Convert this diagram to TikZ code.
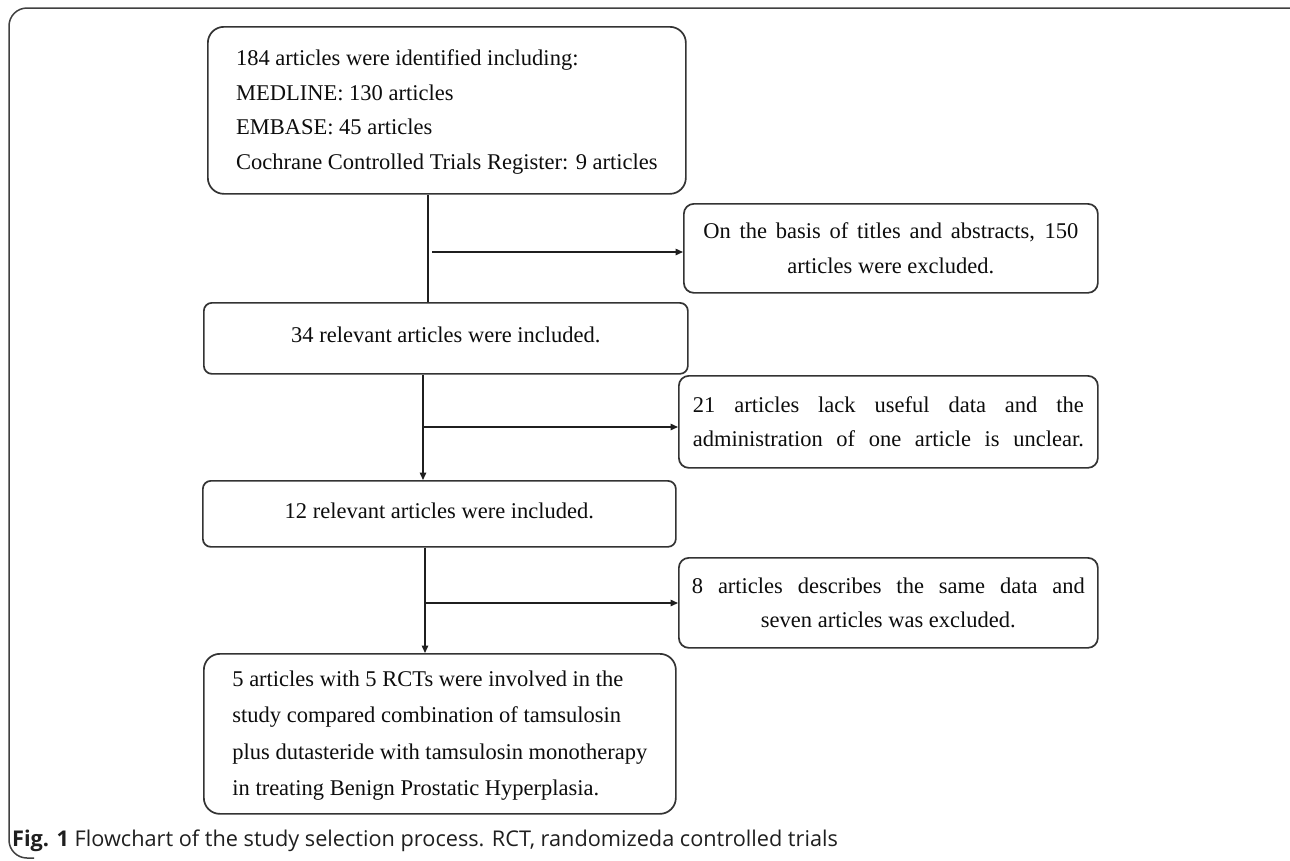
\documentclass[tikz,border=0pt]{standalone}
\usepackage{fontspec}
\setmainfont{Liberation Serif}
\newfontfamily\capfont{Open Sans}
\usetikzlibrary{arrows.meta}
\newcommand{\boxlines}[2]{\raisebox{#1}{\begin{tabular}{@{}l@{}}#2\end{tabular}}}
\begin{document}
\begin{tikzpicture}[x=1pt,y=-1pt,
  box/.style={draw=black!80, line width=1.7pt, anchor=north west, inner sep=0pt,
    font=\fontsize{22.5}{34.5}\selectfont, text=black!95},
  conn/.style={draw=black!88, line width=1.4pt},
  arr/.style={conn, -{Triangle[length=7.5pt,width=6.5pt]}}]
\useasboundingbox (0,0) rectangle (1290,860);
\fill[white] (0,0) rectangle (1290,860);
% outer frame
\draw[black!75, line width=1.5pt, rounded corners=18pt] (1291,8) -- (9,8) -- (9,858) -- (34,858);
% boxes
\node[box, rounded corners=16pt, minimum width=478pt, minimum height=167pt] (top) at (207,26)
  {\boxlines{-4pt}{184 articles were identified including:\\MEDLINE: 130 articles\\EMBASE: 45 articles\\Cochrane Controlled Trials Register: 9 articles}};
\node[box, rounded corners=10pt, minimum width=414pt, minimum height=89pt, align=center] (rb1) at (683,203)
  {\makebox[375pt][s]{On the basis of titles and abstracts, 150}\\articles were excluded.};
\node[box, rounded corners=8pt, minimum width=484pt, minimum height=71pt] (b2) at (203,302)
  {\raisebox{8pt}{34 relevant articles were included.}};
\node[box, rounded corners=10pt, minimum width=419pt, minimum height=92pt, align=center] (rb2) at (678,375)
  {\makebox[391pt][s]{21 articles lack useful data and the}\\\makebox[391pt][s]{administration of one article is unclear.}};
\node[box, rounded corners=8pt, minimum width=473pt, minimum height=66pt] (b3) at (202,480)
  {\raisebox{7pt}{12 relevant articles were included.}};
\node[box, rounded corners=10pt, minimum width=419pt, minimum height=90pt, align=center] (rb3) at (678,557)
  {\makebox[393pt][s]{8 articles describes the same data and}\\seven articles was excluded.};
\node[box, rounded corners=16pt, minimum width=472pt, minimum height=160pt,
  font=\fontsize{22.5}{36.3}\selectfont] (b4) at (203,653)
  {\boxlines{-4pt}{5 articles with 5 RCTs were involved in the\\study compared combination of tamsulosin\\plus dutasteride with tamsulosin monotherapy\\in treating Benign Prostatic Hyperplasia.}};
% connectors
\coordinate (v1) at (428,0);
\coordinate (v2) at (423,0);
\coordinate (v3) at (425,0);
\coordinate (j1) at (432,252);
\coordinate (j2) at (424,427);
\coordinate (j3) at (426,603);
\draw[conn] (top.south -| v1) -- (b2.north -| v1);
\draw[arr] (j1) -- (j1 -| rb1.west);
\draw[arr] (b2.south -| v2) -- (b3.north -| v2);
\draw[arr] (j2) -- (j2 -| rb2.west);
\draw[arr] (b3.south -| v3) -- (b4.north -| v3);
\draw[arr] (j3) -- (j3 -| rb3.west);
% caption
\node[anchor=base west, inner sep=0pt, font=\capfont\fontsize{21.7}{26}\selectfont, text=black!88] (cap) at (12,846)
  {\textbf{Fig. 1} Flowchart of the study selection process. RCT, randomizeda controlled trials};
\end{tikzpicture}
\end{document}
